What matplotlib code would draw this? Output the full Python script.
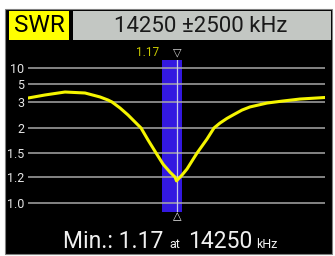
import numpy as np
import matplotlib
matplotlib.use('Agg')
import matplotlib.pyplot as plt
from matplotlib.patches import Rectangle

# data
center_khz = 14250
span_khz = 2500
band = [14000, 14350]          # 20 m band marker
min_swr = 1.17
freq = [11750, 12036, 12373, 12710, 12962, 13097, 13164, 13299, 13434, 13552,
        13653, 13771, 13906, 14024, 14141, 14225, 14250, 14343, 14427, 14511,
        14596, 14680, 14764, 14881, 14982, 15100, 15201, 15353, 15487, 15774,
        16043, 16329, 16750]
swr = [3.44, 3.78, 4.11, 4.0, 3.56, 3.22, 3.0, 2.77, 2.5, 2.23,
       2.0, 1.76, 1.5, 1.36, 1.26, 1.2, 1.17, 1.225, 1.30, 1.40,
       1.5, 1.64, 1.78, 2.0, 2.19, 2.37, 2.5, 2.69, 2.81, 2.96,
       3.11, 3.33, 3.5]
yticks = [1.0, 1.2, 1.5, 2, 3, 5, 10]
ytick_labels = ['1.0', '1.2', '1.5', '2', '3', '5', '10']

# non-linear SWR scale of the screen (value -> position)
scale_v = [0.93, 1.0, 1.2, 1.5, 2, 3, 5, 10, 12.5]
scale_p = [0, 9, 35, 59, 84, 110, 128, 144, 152]


def fwd(v):
    return np.interp(v, scale_v, scale_p)


def inv(p):
    return np.interp(p, scale_p, scale_v)


W, H = 335, 256


def fx(x):
    return x / W


def fy(y):
    return 1 - y / H


plt.rcParams['font.family'] = ['Roboto', 'DejaVu Sans']
fig = plt.figure(figsize=(W / 100, H / 100), dpi=100, facecolor='white')

# screen background and header
fig.patches.append(Rectangle((fx(5), fy(254)), fx(327), (254 - 9) / H,
                             transform=fig.transFigure, facecolor='black',
                             edgecolor='#808080', lw=0.8, zorder=-10))
fig.patches.append(Rectangle((fx(9), fy(40)), fx(60), 29 / H,
                             transform=fig.transFigure, facecolor='#ffff00',
                             lw=0, zorder=-9))
fig.patches.append(Rectangle((fx(73), fy(40)), fx(258), 29 / H,
                             transform=fig.transFigure, facecolor='#c3c7c3',
                             lw=0, zorder=-9))
fig.text(fx(39), fy(26), 'SWR', ha='center', va='center', fontsize=17.5, color='black')
fig.text(fx(201), fy(26), '%d \u00b1%d kHz' % (center_khz, span_khz),
         ha='center', va='center', fontsize=16, color='#1a1a1a')

# plot area
ax = fig.add_axes([fx(28), (H - 212) / H, 297 / W, 152 / H])
ax.patch.set_alpha(0)
ax.set_yscale('function', functions=(fwd, inv))
ax.set_xlim(center_khz - span_khz, center_khz + span_khz)
ax.set_ylim(0.93, 12.5)
for s in ax.spines.values():
    s.set_visible(False)
ax.set_xticks([])
ax.set_yticks(yticks)
ax.set_yticklabels(ytick_labels)
ax.tick_params(axis='y', length=0, pad=2.5, labelsize=9, labelcolor='#e6e6e6')
ax.minorticks_off()
ax.grid(axis='y', color='#a8a8a8', lw=1.1, zorder=1)

ax.axvspan(band[0], band[1], color='#3318e0', lw=0, zorder=0.5)
ax.axvline(center_khz, color='#c8c8e8', lw=0.9, zorder=2)
ax.plot(freq, swr, color='#f5f500', lw=2.2, zorder=3,
        solid_capstyle='round', solid_joinstyle='round')

# markers and readouts
fig.text(fx(177), fy(52), '\u25bd', ha='center', va='center', fontsize=8,
         color='#d8d8d8', family='DejaVu Sans')
fig.text(fx(177), fy(216), '\u25b3', ha='center', va='center', fontsize=8,
         color='#f0f0f0', family='DejaVu Sans')
fig.text(fx(148), fy(52), '%.2f' % min_swr, ha='center', va='center',
         fontsize=8.5, color='#c8c800')

base = fy(248)
fig.text(fx(63), base, 'Min.: %.2f' % min_swr, ha='left', va='baseline',
         fontsize=16.5, color='#f0f0f0')
fig.text(fx(169), base, 'at', ha='left', va='baseline', fontsize=9, color='#f0f0f0')
fig.text(fx(188), base, '%d' % center_khz, ha='left', va='baseline',
         fontsize=16.5, color='#f0f0f0')
fig.text(fx(256), base, 'kHz', ha='left', va='baseline', fontsize=9, color='#f0f0f0')

fig.savefig('out.png', dpi=100, facecolor='white')
